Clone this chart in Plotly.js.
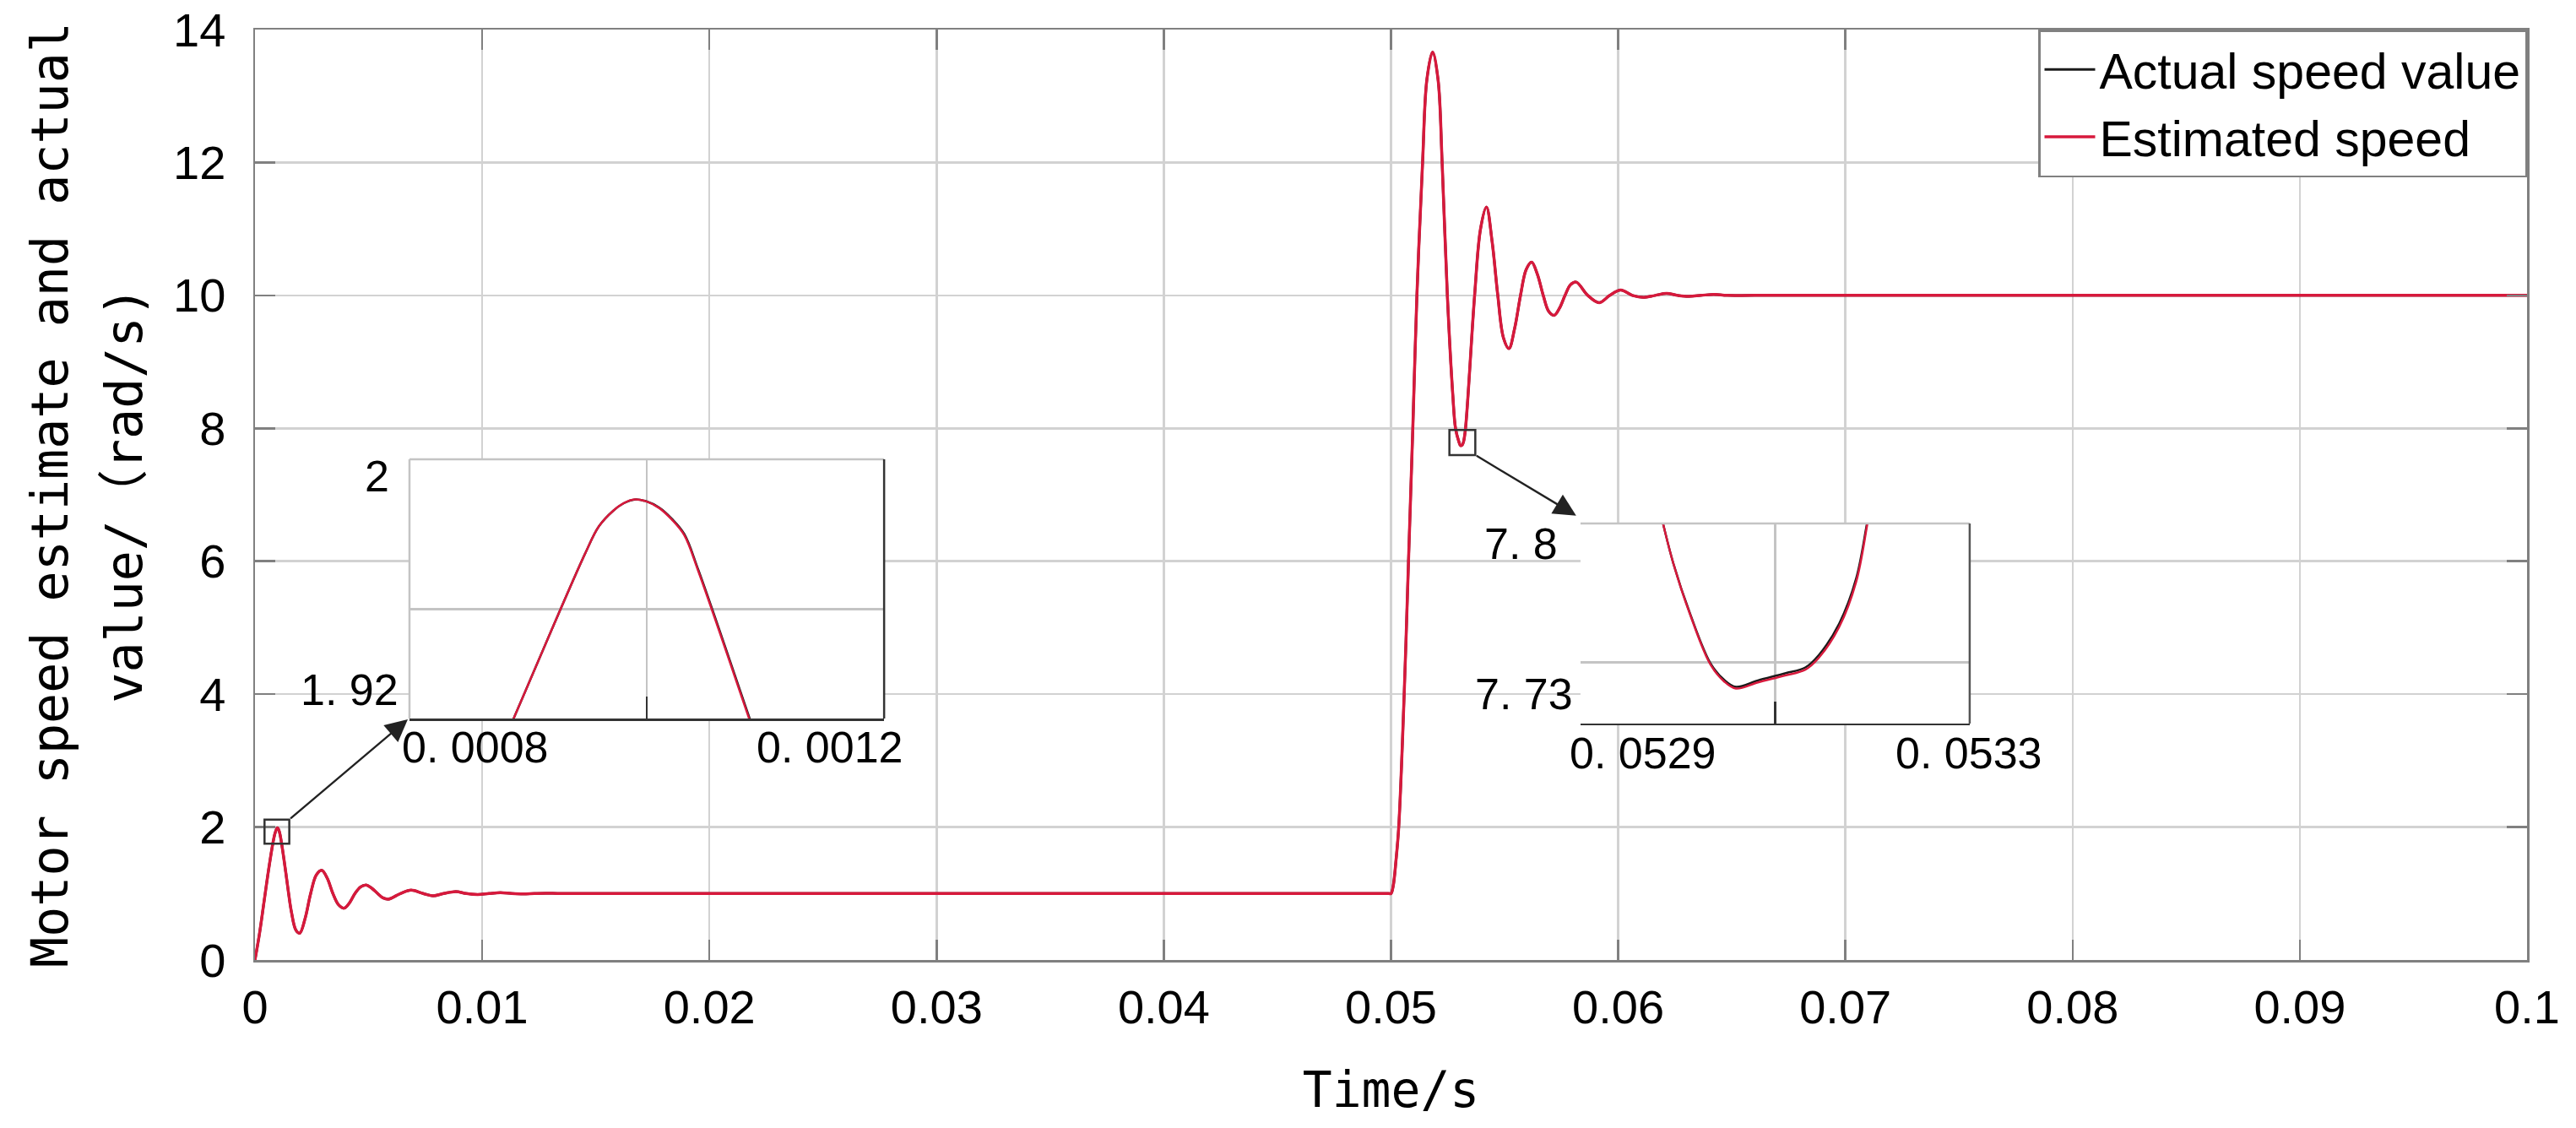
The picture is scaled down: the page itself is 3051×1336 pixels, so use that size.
<!DOCTYPE html>
<html>
<head>
<meta charset="utf-8">
<script src="https://cdn.plot.ly/plotly-3.0.1.min.js"></script>
<style>html,body{margin:0;padding:0;background:#fff;}#chart{width:3051px;height:1336px;}</style>
</head>
<body>
<div id="chart"></div>
<script>
// ---- data ----
const timeS = [0, 0.0002, 0.0004, 0.0006, 0.0008, 0.000888, 0.00096, 0.00099, 0.00102, 0.001086, 0.0012, 0.00135, 0.00148,
  0.0016, 0.0018, 0.00197, 0.00221, 0.00245, 0.0027, 0.00294, 0.00318, 0.00343, 0.00368, 0.00393,
  0.00416, 0.0044, 0.00465, 0.0049, 0.00514, 0.0054, 0.00563, 0.00587, 0.0064, 0.00687, 0.0074, 0.00784,
  0.0083, 0.00884, 0.0093, 0.0098, 0.0103, 0.0108, 0.0113, 0.0118, 0.0123, 0.0128, 0.0135, 0.02, 0.03, 0.04,
  0.0499, 0.05, 0.0501, 0.05022, 0.05034, 0.05058, 0.05077, 0.05096, 0.05114, 0.05139, 0.05158, 0.05183,
  0.05207, 0.05225, 0.05248, 0.05272, 0.05284, 0.052985, 0.05306, 0.05313, 0.053194, 0.05328, 0.05368, 0.05394, 0.0542,
  0.05445, 0.0547, 0.05495, 0.05519, 0.05544, 0.0557, 0.05595, 0.05619, 0.05644, 0.0567, 0.05694, 0.05718,
  0.05742, 0.05766, 0.0579, 0.05815, 0.05866, 0.05916, 0.05963, 0.06011,
  0.06062, 0.06113, 0.06163, 0.06213, 0.06262, 0.0631, 0.06365, 0.0642, 0.0648, 0.066, 0.08, 0.1];
const actualSpeed = [0, 0.4, 0.88, 1.36, 1.78, 1.914, 1.978, 1.987, 1.978, 1.914, 1.69, 1.33, 1.0,
  0.73, 0.45, 0.404, 0.63, 1.0, 1.28, 1.35, 1.23, 1.0, 0.83, 0.78,
  0.86, 1.0, 1.10, 1.128, 1.08, 1.0, 0.935, 0.915, 1.0, 1.05, 1.0, 0.966,
  1.0, 1.03, 1.0, 0.985, 1.0, 1.012, 1.0, 0.994, 1.0, 1.004, 1.0, 1.0, 1.0, 1.0,
  1.0, 1.0, 1.12, 1.5, 2.0, 4.0, 6.0, 8.0, 10.0, 12.0, 13.25, 13.66,
  13.25, 12.0, 10.0, 8.5, 8.0, 7.8, 7.741, 7.748, 7.8, 8.0, 10.0, 11.0, 11.33,
  10.81, 10.0, 9.36, 9.2, 9.5, 10.0, 10.39, 10.5, 10.32, 10.0, 9.76, 9.7,
  9.81, 10.0, 10.16, 10.2, 10.0, 9.89, 10.0, 10.08,
  10.0, 9.97, 10.0, 10.03, 10.0, 9.985, 10.0, 10.015, 10.0, 10.0, 10.0, 10.0];
const estimatedSpeed = [0, 0.4, 0.88, 1.36, 1.78, 1.914, 1.978, 1.987, 1.977, 1.913, 1.69, 1.33, 1.0,
  0.73, 0.45, 0.404, 0.63, 1.0, 1.28, 1.35, 1.23, 1.0, 0.83, 0.78,
  0.86, 1.0, 1.10, 1.128, 1.08, 1.0, 0.935, 0.915, 1.0, 1.05, 1.0, 0.966,
  1.0, 1.03, 1.0, 0.985, 1.0, 1.012, 1.0, 0.994, 1.0, 1.004, 1.0, 1.0, 1.0, 1.0,
  1.0, 1.0, 1.12, 1.5, 2.0, 4.0, 6.0, 8.0, 10.0, 12.0, 13.25, 13.66,
  13.25, 12.0, 10.0, 8.5, 8.0, 7.8, 7.740, 7.747, 7.799, 8.0, 10.0, 11.0, 11.33,
  10.81, 10.0, 9.36, 9.2, 9.5, 10.0, 10.39, 10.5, 10.32, 10.0, 9.76, 9.7,
  9.81, 10.0, 10.16, 10.2, 10.0, 9.89, 10.0, 10.08,
  10.0, 9.97, 10.0, 10.03, 10.0, 9.985, 10.0, 10.015, 10.0, 10.0, 10.0, 10.0];

// zoomed detail around the first peak
const peakT = [0.00087, 0.00088779, 0.0009477, 0.00095968, 0.00097166, 0.00098063, 0.00098963, 0.00100012,
  0.0010106, 0.0010211, 0.0010316, 0.0010436, 0.0010864, 0.0011];
const peakActual = [1.8974, 1.91362, 1.9683, 1.97768, 1.98284, 1.98537, 1.98659, 1.98593,
  1.98390, 1.98020, 1.97510, 1.96300, 1.91400, 1.8985];
const peakEstimated = [1.8974, 1.91362, 1.9683, 1.97768, 1.98284, 1.98540, 1.98662, 1.98590,
  1.98372, 1.97990, 1.97470, 1.96250, 1.91340, 1.8978];

// zoomed detail around the first valley after the step
const valleyT = [0.05297, 0.0529848, 0.0529953, 0.0530127, 0.0530336, 0.0530475, 0.0530597, 0.0530823, 0.0531102, 0.0531311, 0.053145, 0.0531659, 0.0531833, 0.0531944, 0.0532];
const valleyActual = [7.822, 7.8, 7.7858, 7.7675, 7.7497, 7.7438, 7.7412, 7.7435, 7.7461, 7.7482, 7.7527, 7.7640, 7.7802, 7.8, 7.811];
const valleyEstimated = [7.822, 7.8, 7.7858, 7.7672, 7.7492, 7.7432, 7.7406, 7.7428, 7.7453, 7.7474, 7.7517, 7.7628, 7.7790, 7.799, 7.811];

const xTickVals = [0, 0.01, 0.02, 0.03, 0.04, 0.05, 0.06, 0.07, 0.08, 0.09, 0.1];
const xTickText = ['0', '0.01', '0.02', '0.03', '0.04', '0.05', '0.06', '0.07', '0.08', '0.09', '0.1'];
const yTickVals = [0, 2, 4, 6, 8, 10, 12, 14];
const seriesNames = ['Actual speed value', 'Estimated speed'];
const yTitleLines = ['Motor speed estimate and actual', 'value/（rad/s)'];
const xTitle = 'Time/s';
const peakInsetLabels = {x: ['0. 0008', '0. 0012'], y: ['2', '1. 92']};
const valleyInsetLabels = {x: ['0. 0529', '0. 0533'], y: ['7. 8', '7. 73']};

// ---- styles ----
const RED = '#d7193c', BLACK = '#1a1a1a';
const GRID = '#d2d2d2', AXIS = '#808080';
const SANS = 'Liberation Sans, Arial, sans-serif';
const MONO = 'DejaVu Sans Mono, Noto Sans CJK SC, monospace';

const traces = [
  {x: timeS, y: actualSpeed, name: seriesNames[0], type: 'scatter', mode: 'lines',
   line: {color: BLACK, width: 3, shape: 'spline'}, xaxis: 'x', yaxis: 'y'},
  {x: timeS, y: estimatedSpeed, name: seriesNames[1], type: 'scatter', mode: 'lines',
   line: {color: RED, width: 3.5, shape: 'spline'}, xaxis: 'x', yaxis: 'y'},
  {x: peakT, y: peakActual, showlegend: false, type: 'scatter', mode: 'lines',
   line: {color: BLACK, width: 2.5, shape: 'spline'}, xaxis: 'x2', yaxis: 'y2'},
  {x: peakT, y: peakEstimated, showlegend: false, type: 'scatter', mode: 'lines',
   line: {color: RED, width: 2.5, shape: 'spline'}, xaxis: 'x2', yaxis: 'y2'},
  {x: valleyT, y: valleyActual, showlegend: false, type: 'scatter', mode: 'lines',
   line: {color: BLACK, width: 2.5, shape: 'spline'}, xaxis: 'x3', yaxis: 'y3'},
  {x: valleyT, y: valleyEstimated, showlegend: false, type: 'scatter', mode: 'lines',
   line: {color: RED, width: 2.5, shape: 'spline'}, xaxis: 'x3', yaxis: 'y3'}
];

function insetX(domain, range, gridAt) {
  return {domain: domain, range: range, showticklabels: false, tickmode: 'array', tickvals: [],
    showgrid: false, zeroline: false, showline: true, linecolor: '#333', linewidth: 2.5, mirror: false,
    ticks: '',
    minor: {tickmode: 'array', tickvals: [gridAt], showgrid: true, gridcolor: '#c4c4c4', gridwidth: 2.5,
            ticks: 'inside', ticklen: 26, tickcolor: '#333', tickwidth: 2.5},
    fixedrange: true};
}
function insetY(domain, range, gridAt) {
  return {domain: domain, range: range, showticklabels: false, tickmode: 'array', tickvals: [],
    showgrid: false, zeroline: false, showline: false, ticks: '',
    minor: {tickmode: 'array', tickvals: [gridAt], showgrid: true, gridcolor: '#c4c4c4', gridwidth: 2.5, ticks: ''},
    fixedrange: true};
}
function label(text, x, y, xanchor) {
  return {xref: 'paper', yref: 'paper', x: x, y: y, xanchor: xanchor, yanchor: 'middle',
    text: text, showarrow: false, font: {family: SANS, size: 52, color: '#000'}};
}
const span = s => '<span style="font-size:60px">' + s + '</span>';

const layout = {
  width: 3051, height: 1336,
  margin: {l: 302, r: 58, t: 35, b: 199},
  paper_bgcolor: '#fff', plot_bgcolor: '#fff',
  showlegend: true,
  legend: {x: 1, y: 1, xanchor: 'right', yanchor: 'top', bgcolor: '#fff',
    bordercolor: AXIS, borderwidth: 2.5, font: {family: SANS, size: 59, color: '#000'},
    itemwidth: 60, tracegroupgap: 0},
  xaxis: {domain: [0, 1], anchor: 'y', range: [0, 0.1], tickmode: 'array', tickvals: xTickVals, ticktext: xTickText,
    showgrid: true, gridcolor: GRID, gridwidth: 2.5, zeroline: false,
    showline: true, linecolor: AXIS, linewidth: 2.5, mirror: 'ticks',
    ticks: 'inside', ticklen: 24, tickwidth: 2.5, tickcolor: AXIS,
    tickfont: {family: SANS, size: 56, color: '#000'}, ticklabelstandoff: 5,
    title: {text: xTitle, font: {family: MONO, size: 58, color: '#000'}, standoff: 48}},
  yaxis: {domain: [0, 1], anchor: 'x', range: [0, 14], tickmode: 'array', tickvals: yTickVals,
    showgrid: true, gridcolor: GRID, gridwidth: 2.5, zeroline: false,
    showline: true, linecolor: AXIS, linewidth: 2.5, mirror: 'ticks',
    ticks: 'inside', ticklen: 24, tickwidth: 2.5, tickcolor: AXIS,
    tickfont: {family: SANS, size: 56, color: '#000'}, ticklabelstandoff: 21,
    title: {text: span(yTitleLines[0]) + '<br>' + span(yTitleLines[1]),
            font: {family: MONO, size: 68, color: '#000'}, standoff: 14}},
  xaxis2: Object.assign(insetX([0.0680, 0.2769], [0.0008, 0.0012], 0.001), {anchor: 'y2'}),
  yaxis2: Object.assign(insetY([0.2595, 0.5381], [1.9136, 2.0], 1.95), {anchor: 'x2'}),
  xaxis3: Object.assign(insetX([0.5834, 0.7547], [0.0529, 0.0533], 0.0531), {anchor: 'y3'}),
  yaxis3: Object.assign(insetY([0.2541, 0.4691], [7.728, 7.8], 7.75), {anchor: 'x3'}),
  shapes: [
    // zoom boxes on the main curve
    {type: 'rect', xref: 'x', yref: 'y', x0: 0.00042, x1: 0.00151, y0: 1.75, y1: 2.113,
     line: {color: '#333', width: 2.5}, fillcolor: 'rgba(0,0,0,0)', layer: 'above'},
    {type: 'rect', xref: 'x', yref: 'y', x0: 0.05257, x1: 0.05371, y0: 7.598, y1: 7.976,
     line: {color: '#333', width: 2.5}, fillcolor: 'rgba(0,0,0,0)', layer: 'above'},
    // inset frames
    {type: 'line', xref: 'x2 domain', yref: 'y2 domain', x0: 0, x1: 1, y0: 1, y1: 1, line: {color: '#c4c4c4', width: 2.5}},
    {type: 'line', xref: 'x2 domain', yref: 'y2 domain', x0: 0, x1: 0, y0: 0, y1: 1, line: {color: '#c4c4c4', width: 2.5}},
    {type: 'line', xref: 'x2 domain', yref: 'y2 domain', x0: 1, x1: 1, y0: 0, y1: 1, line: {color: '#333', width: 2.5}},
    {type: 'line', xref: 'x3 domain', yref: 'y3 domain', x0: 0, x1: 1, y0: 1, y1: 1, line: {color: '#c4c4c4', width: 2.5}},
    {type: 'line', xref: 'x3 domain', yref: 'y3 domain', x0: 1, x1: 1, y0: 0, y1: 1, line: {color: '#555', width: 2.5}}
  ],
  annotations: [
    {xref: 'x', yref: 'y', x: 0.006726, y: 3.621, axref: 'x', ayref: 'y', ax: 0.00151, ay: 2.113,
     text: '', showarrow: true, arrowhead: 2, arrowsize: 2.2, arrowwidth: 2.4, arrowcolor: '#222'},
    {xref: 'x', yref: 'y', x: 0.05815, y: 6.687, axref: 'x', ayref: 'y', ax: 0.05371, ay: 7.598,
     text: '', showarrow: true, arrowhead: 2, arrowsize: 2.2, arrowwidth: 2.4, arrowcolor: '#222'},
    // inset tick labels, placed where the reference shows them
    label(peakInsetLabels.x[0], 0.0970, 0.2287, 'center'),
    label(peakInsetLabels.x[1], 0.2531, 0.2287, 'center'),
    label(peakInsetLabels.y[0], 0.0598, 0.5200, 'right'),
    label(peakInsetLabels.y[1], 0.0639, 0.2904, 'right'),
    label(valleyInsetLabels.x[0], 0.6109, 0.2223, 'center'),
    label(valleyInsetLabels.x[1], 0.7542, 0.2223, 'center'),
    label(valleyInsetLabels.y[0], 0.5741, 0.4474, 'right'),
    label(valleyInsetLabels.y[1], 0.5808, 0.2858, 'right')
  ]
};

Plotly.newPlot('chart', traces, layout, {displayModeBar: false, staticPlot: true});
</script>
</body>
</html>
